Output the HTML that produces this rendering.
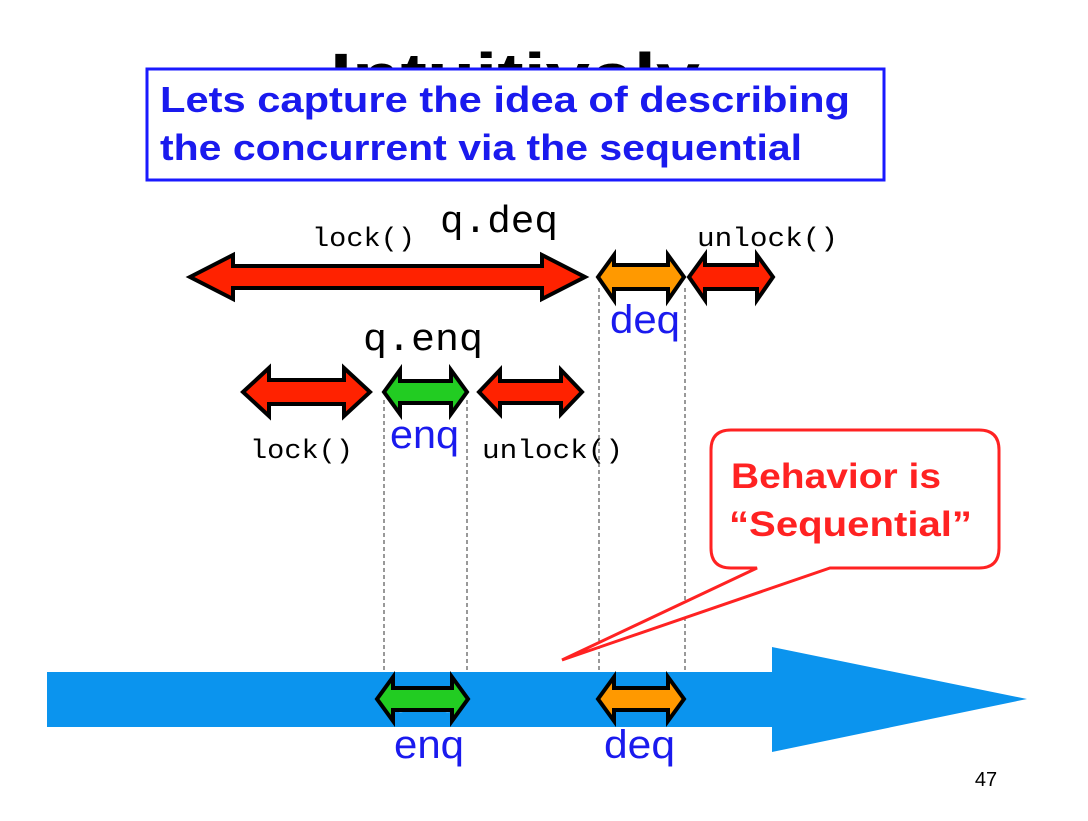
<!DOCTYPE html>
<html><head><meta charset="utf-8"><style>
html,body{margin:0;padding:0;background:#fff;}
svg{display:block}
</style></head><body>
<svg width="1088" height="821" viewBox="0 0 1088 821" xmlns="http://www.w3.org/2000/svg">
<rect width="1088" height="821" fill="#fff"/>
<text x="330" y="98" textLength="370" lengthAdjust="spacingAndGlyphs" font-family="Liberation Sans, sans-serif" font-weight="bold" font-size="64" fill="#000">Intuitively</text>
<rect x="147" y="69" width="737" height="111" fill="#fff" stroke="#1a1aff" stroke-width="3"/>
<text font-family="Liberation Sans, sans-serif" font-weight="bold" font-size="36" fill="#1a1aee">
<tspan x="160" y="112" textLength="690" lengthAdjust="spacingAndGlyphs">Lets capture the idea of describing</tspan>
<tspan x="160" y="160" textLength="642" lengthAdjust="spacingAndGlyphs">the concurrent via the sequential</tspan></text>

<g stroke="#333" stroke-width="1" stroke-dasharray="4,3" fill="none">
<line x1="384" y1="400" x2="384" y2="682"/><line x1="467" y1="400" x2="467" y2="682"/>
<line x1="599" y1="288" x2="599" y2="682"/><line x1="685" y1="288" x2="685" y2="682"/>
</g>

<polygon points="47,672 772,672 772,647 1027,699 772,752 772,727 47,727" fill="#0b94ee"/>
<text x="425" y="712" font-family="Liberation Sans, sans-serif" font-weight="bold" font-size="30" fill="#cde8ff" text-anchor="middle">time</text>

<g stroke="#000" stroke-width="4" stroke-linejoin="miter">
<polygon points="190,277 233,255 233,266 542,266 542,255 585,277 542,299 542,288 233,288 233,299" fill="#ff2200"/>
<polygon points="598,277 614,255 614,265 668,265 668,255 684,277 668,300 668,289 614,289 614,300" fill="#ff9900"/>
<polygon points="689,277 705,255 705,265 757,265 757,255 773,277 757,300 757,289 705,289 705,300" fill="#ff2200"/>
<polygon points="243,392 269,368 269,380 344,380 344,368 370,392 344,416 344,404 269,404 269,416" fill="#ff2200"/>
<polygon points="384,392 400,370 400,381 451,381 451,370 467,392 451,414 451,403 400,403 400,414" fill="#22cc22"/>
<polygon points="479,392 500,370 500,381 561,381 561,370 582,392 561,414 561,403 500,403 500,414" fill="#ff2200"/>
<polygon points="377,699 393,677 393,688 452,688 452,677 468,699 452,721 452,710 393,710 393,721" fill="#22cc22"/>
<polygon points="598,699 614,677 614,688 668,688 668,677 684,699 668,721 668,710 614,710 614,721" fill="#ff9900"/>
</g>

<g font-family="Liberation Mono, monospace" fill="#000" lengthAdjust="spacingAndGlyphs">
<text x="312" y="246" font-size="27" textLength="103" lengthAdjust="spacingAndGlyphs">lock()</text>
<text x="440" y="232" font-size="38" textLength="118" lengthAdjust="spacingAndGlyphs">q.deq</text>
<text x="697" y="246" font-size="27" textLength="141" lengthAdjust="spacingAndGlyphs">unlock()</text>
<text x="363" y="350" font-size="38" textLength="120" lengthAdjust="spacingAndGlyphs">q.enq</text>
<text x="250" y="458" font-size="27" textLength="103" lengthAdjust="spacingAndGlyphs">lock()</text>
<text x="482" y="458" font-size="27" textLength="141" lengthAdjust="spacingAndGlyphs">unlock()</text>
</g>
<g font-family="Liberation Sans, sans-serif" font-size="40" fill="#1a1aee">
<text x="610" y="333" textLength="70" lengthAdjust="spacingAndGlyphs">deq</text>
<text x="390" y="448" textLength="69" lengthAdjust="spacingAndGlyphs">enq</text>
<text x="394" y="758" textLength="70" lengthAdjust="spacingAndGlyphs">enq</text>
<text x="604" y="758" textLength="71" lengthAdjust="spacingAndGlyphs">deq</text>
</g>

<path d="M731,430 H979 Q999,430 999,450 V548 Q999,568 979,568 H830 L562,660 L757,568 H731 Q711,568 711,548 V450 Q711,430 731,430 Z" fill="#fff" stroke="#ff2222" stroke-width="3"/>
<text font-family="Liberation Sans, sans-serif" font-weight="bold" font-size="35" fill="#ff2222">
<tspan x="731" y="488" textLength="210" lengthAdjust="spacingAndGlyphs">Behavior is</tspan>
<tspan x="729" y="536" textLength="243" lengthAdjust="spacingAndGlyphs">“Sequential”</tspan></text>

<text x="986" y="786" font-family="Liberation Sans, sans-serif" font-size="20" fill="#000" text-anchor="middle">47</text>
</svg>
</body></html>
